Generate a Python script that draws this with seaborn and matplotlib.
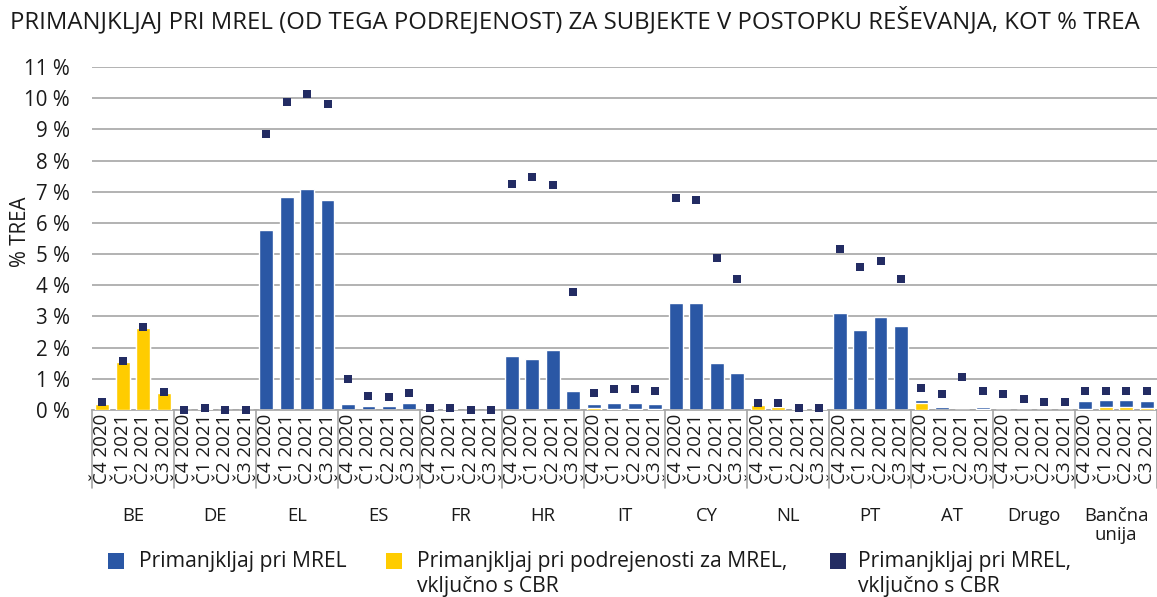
import numpy as np
import pandas as pd
import matplotlib
matplotlib.use("Agg")
import matplotlib.pyplot as plt
import matplotlib.transforms as mtransforms
from matplotlib.patches import Rectangle
import seaborn as sns

# ---------------- data ----------------
groups = ["BE", "DE", "EL", "ES", "FR", "HR", "IT", "CY", "NL", "PT", "AT", "Drugo", "Bančna\nunija"]
quarters = ["Č4 2020", "Č1 2021", "Č2 2021", "Č3 2021"]

# Primanjkljaj pri podrejenosti za MREL, vključno s CBR (yellow, bottom of stack)
sub_shortfall = {
    "BE": [0.20, 1.55, 2.64, 0.55],
    "DE": [0.00, 0.03, 0.00, 0.00],
    "EL": [0.00, 0.00, 0.00, 0.00],
    "ES": [0.00, 0.00, 0.00, 0.00],
    "FR": [0.03, 0.03, 0.01, 0.01],
    "HR": [0.00, 0.00, 0.00, 0.00],
    "IT": [0.08, 0.03, 0.03, 0.03],
    "CY": [0.00, 0.00, 0.00, 0.00],
    "NL": [0.17, 0.09, 0.03, 0.03],
    "PT": [0.00, 0.00, 0.00, 0.00],
    "AT": [0.22, 0.00, 0.00, 0.03],
    "Drugo": [0.00, 0.00, 0.00, 0.00],
    "Bančna\nunija": [0.03, 0.09, 0.09, 0.05],
}
# Primanjkljaj pri MREL (blue, stacked on top)
mrel_shortfall = {
    "BE": [0.00, 0.00, 0.00, 0.00],
    "DE": [0.00, 0.00, 0.00, 0.00],
    "EL": [5.77, 6.83, 7.08, 6.73],
    "ES": [0.18, 0.12, 0.12, 0.22],
    "FR": [0.00, 0.00, 0.00, 0.00],
    "HR": [1.74, 1.64, 1.93, 0.62],
    "IT": [0.10, 0.19, 0.19, 0.15],
    "CY": [3.42, 3.42, 1.50, 1.18],
    "NL": [0.00, 0.00, 0.00, 0.00],
    "PT": [3.12, 2.57, 2.99, 2.70],
    "AT": [0.09, 0.09, 0.03, 0.06],
    "Drugo": [0.03, 0.03, 0.03, 0.03],
    "Bančna\nunija": [0.25, 0.22, 0.22, 0.23],
}
# Primanjkljaj pri MREL, vključno s CBR (navy squares)
mrel_cbr = {
    "BE": [0.25, 1.57, 2.66, 0.58],
    "DE": [0.00, 0.05, 0.00, 0.00],
    "EL": [8.86, 9.88, 10.13, 9.80],
    "ES": [0.98, 0.44, 0.41, 0.53],
    "FR": [0.06, 0.06, 0.00, 0.00],
    "HR": [7.25, 7.46, 7.22, 3.80],
    "IT": [0.55, 0.67, 0.67, 0.61],
    "CY": [6.80, 6.72, 4.88, 4.21],
    "NL": [0.22, 0.22, 0.06, 0.06],
    "PT": [5.17, 4.60, 4.79, 4.21],
    "AT": [0.70, 0.51, 1.05, 0.61],
    "Drugo": [0.51, 0.35, 0.26, 0.26],
    "Bančna\nunija": [0.61, 0.61, 0.61, 0.61],
}

title = "PRIMANJKLJAJ PRI MREL (OD TEGA PODREJENOST) ZA SUBJEKTE V POSTOPKU REŠEVANJA, KOT % TREA"
legend_labels = [
    "Primanjkljaj pri MREL",
    "Primanjkljaj pri podrejenosti za MREL,\nvključno s CBR",
    "Primanjkljaj pri MREL,\nvključno s CBR",
]

BLUE = "#2A57A5"
YELLOW = "#FFCC00"
NAVY = "#232C63"
GRID = "#A6A6A6"
TXT = "#1a1a1a"

rows = []
for gi, g in enumerate(groups):
    for qi, q in enumerate(quarters):
        s = sub_shortfall[g][qi]
        m = mrel_shortfall[g][qi]
        rows.append({"key": f"{gi}-{qi}", "group": g, "quarter": q,
                     "sub": s, "total": s + m, "cbr": mrel_cbr[g][qi]})
df = pd.DataFrame(rows)
keys = list(df["key"])

# ---------------- plot ----------------
sns.set_theme(style="white")
plt.rcParams["font.family"] = ["Open Sans", "DejaVu Sans"]

W, H = 1157, 597
fig = plt.figure(figsize=(W / 100, H / 100), dpi=100)
ax = fig.add_axes([92 / W, 187 / H, 1065 / W, 343 / H])

sns.barplot(data=df, x="key", y="total", order=keys, color=BLUE, saturation=1,
            width=0.68, errorbar=None, ax=ax, zorder=2)
sns.barplot(data=df, x="key", y="sub", order=keys, color=YELLOW, saturation=1,
            width=0.68, errorbar=None, ax=ax, zorder=3)
sns.stripplot(data=df, x="key", y="cbr", order=keys, color=NAVY, marker="s",
              size=6.2, jitter=False, linewidth=0, ax=ax, zorder=4)
for coll in ax.collections:
    coll.set_clip_on(False)

ax.set_xlim(-0.5, len(keys) - 0.5)
ax.set_ylim(0, 11)
ax.set_yticks(range(0, 12))
ax.set_yticklabels([f"{i} %" for i in range(0, 12)], fontsize=14.8, color=TXT)
ax.yaxis.grid(True, color=GRID, linewidth=1.2, zorder=0)
ax.set_axisbelow(True)
ax.set_xticks(range(len(keys)))
ax.set_xticklabels([q for g in groups for q in quarters], rotation=90,
                   fontsize=13.5, color=TXT, va="top")
ax.tick_params(axis="both", length=0)
ax.tick_params(axis="x", pad=3)
ax.tick_params(axis="y", pad=16)
ax.set_xlabel("")
ax.set_ylabel("")
for side in ["left", "right", "top"]:
    ax.spines[side].set_visible(False)
ax.spines["bottom"].set_color(GRID)
ax.spines["bottom"].set_linewidth(1.2)

trans = mtransforms.blended_transform_factory(ax.transData, ax.transAxes)
for b in range(len(groups) + 1):
    x = b * 4 - 0.5
    ax.plot([x, x], [0, -78 / 343], transform=trans, color=GRID, lw=1.2, clip_on=False)
for gi, g in enumerate(groups):
    ax.text(gi * 4 + 1.5, -97 / 343, g, transform=trans, ha="center", va="top",
            fontsize=13.3, color=TXT, linespacing=1.1)

fig.text(20 / W, 1 - 232 / H, "% TREA", rotation=90, ha="center", va="center",
         fontsize=14.8, color=TXT)
fig.text(10 / W, 1 - 21 / H, title, ha="left", va="center", fontsize=17.2, color=TXT)

# legend (square aligned with first text line, as in the reference)
legend_colors = [BLUE, YELLOW, NAVY]
sq_x = [108, 386, 830]
txt_x = [139, 417, 858]
for c, sx, tx, lab in zip(legend_colors, sq_x, txt_x, legend_labels):
    fig.patches.append(Rectangle((sx / W, 1 - 569 / H), 16 / W, 16 / H,
                                 transform=fig.transFigure, facecolor=c, edgecolor="none"))
    for li, line in enumerate(lab.split("\n")):
        fig.text(tx / W, 1 - (567 + 25 * li) / H, line, ha="left", va="baseline",
                 fontsize=15.2, color=TXT)

fig.savefig("out.png", dpi=100)
